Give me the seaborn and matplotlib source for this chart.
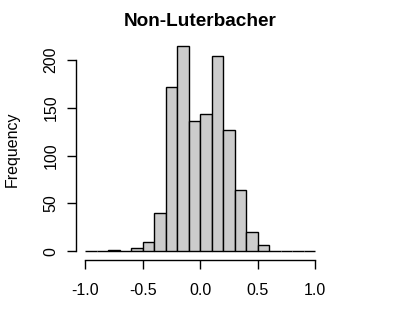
import numpy as np
import pandas as pd
import matplotlib
matplotlib.use("Agg")
import matplotlib.pyplot as plt
import seaborn as sns

# Data (bins of width 0.1 from -1 to 1)
bin_edges = [-1.0, -0.9, -0.8, -0.7, -0.6, -0.5, -0.4, -0.3, -0.2, -0.1, 0.0,
             0.1, 0.2, 0.3, 0.4, 0.5, 0.6, 0.7, 0.8, 0.9, 1.0]
counts = [0, 0, 1, 0, 3, 10, 40, 171, 214, 136, 143, 204, 127, 64, 20, 7, 0, 0, 0, 0]
x_ticks = [-1.0, -0.5, 0.0, 0.5, 1.0]
y_ticks = [0, 50, 100, 150, 200]
title = "Non-Luterbacher"
ylabel = "Frequency"

centers = [(a + b) / 2 for a, b in zip(bin_edges[:-1], bin_edges[1:])]
df = pd.DataFrame({"value": centers, "count": counts})

sns.set_style("white")
plt.rcParams["font.family"] = ["Liberation Sans", "DejaVu Sans"]

W, H = 400, 316
fig = plt.figure(figsize=(W / 100, H / 100), dpi=100)
left, right, top, bottom = 76.1, 324.5, 38.1, 259.5
ax = fig.add_axes([left / W, 1 - bottom / H, (right - left) / W, (bottom - top) / H])

sns.histplot(data=df, x="value", weights="count", bins=bin_edges, ax=ax,
             color="#cccccc", edgecolor="black", linewidth=1.0, alpha=1.0)

ax.set_xlim(-1.08, 1.08)
ax.set_ylim(-8.56, 222.56)
ax.set_xticks(x_ticks)
ax.set_xticklabels([f"{v:.1f}" for v in x_ticks])
ax.set_yticks(y_ticks)
ax.set_yticklabels([str(v) for v in y_ticks], rotation=90, va="center", ha="center")

for s in ["top", "right"]:
    ax.spines[s].set_visible(False)
ax.spines["left"].set_bounds(0, 200)
ax.spines["bottom"].set_bounds(-1.0, 1.0)
for s in ["left", "bottom"]:
    ax.spines[s].set_color("black")
    ax.spines[s].set_linewidth(1.0)

ax.tick_params(axis="x", length=6.2, width=1.0, color="black", pad=10.5,
               labelsize=11.5, labelcolor="black", bottom=True)
ax.tick_params(axis="y", length=6.5, width=1.0, color="black", pad=11.5,
               labelsize=11.5, labelcolor="black", left=True)

ax.set_xlabel("")
ax.set_ylabel(ylabel, fontsize=11.5, color="black")
ax.yaxis.label.set_va("center")
ax.yaxis.set_label_coords((12.5 - left) / (right - left), 0.5)

ax.set_title(title, fontsize=13.7, fontweight="bold", color="black", pad=9)
ax.grid(False)

fig.savefig("out.png", dpi=100, facecolor="white")
